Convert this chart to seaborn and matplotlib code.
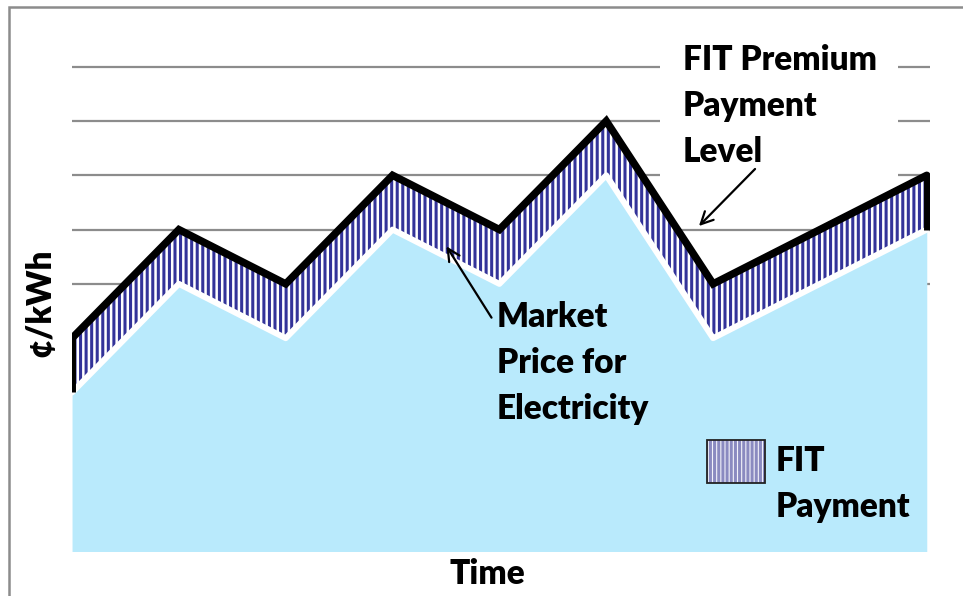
import numpy as np
import pandas as pd
import seaborn as sns
import matplotlib.pyplot as plt
from matplotlib.patches import Rectangle

# Chart data (arbitrary units)
periods = [0, 1, 2, 3, 4, 5, 6, 7, 8]
market_price = [3, 5, 4, 6, 5, 7, 4, 5, 6]
fit_payment = [1, 1, 1, 1, 1, 1, 1, 1, 1]
grid_values = [5, 6, 7, 8, 9]

df = pd.DataFrame({"Time": periods, "Market": market_price, "FIT": fit_payment})
df["Premium"] = df["Market"] + df["FIT"]

sns.set_style("white")
plt.rcParams["font.family"] = ["Lato", "DejaVu Sans"]
plt.rcParams["text.color"] = "black"
plt.rcParams["hatch.linewidth"] = 2.2

fig = plt.figure(figsize=(9.63, 5.96), dpi=100)
ax = fig.add_axes([0.0748, 0.0755, 0.8909, 0.849])

# gridlines
for g in grid_values:
    ax.axhline(g, color="#8c8c8c", lw=1.6, zorder=1)

# white box behind the top-right label (breaks the gridlines)
ax.add_patch(Rectangle((660 / 963, 1 - 200 / 596), 238 / 963, 165 / 596,
                       transform=fig.transFigure, facecolor="white",
                       edgecolor="none", zorder=1.5))

# market price area
ax.fill_between(df["Time"], 0, df["Market"], color="#B9EAFC", lw=0, zorder=2)
# FIT payment band (hatched)
ax.fill_between(df["Time"], df["Market"], df["Premium"], facecolor="white",
                edgecolor="#333399", hatch="|||", lw=0, zorder=2)

sns.lineplot(data=df, x="Time", y="Market", color="white", lw=4.3, ax=ax, zorder=3)
sns.lineplot(data=df, x="Time", y="Premium", color="black", lw=5.4, ax=ax, zorder=4)
ax.lines[-1].set_solid_joinstyle("miter")
ax.vlines([df["Time"].iloc[0], df["Time"].iloc[-1]],
          [df["Market"].iloc[0], df["Market"].iloc[-1]],
          [df["Premium"].iloc[0], df["Premium"].iloc[-1]],
          color="black", lw=5.0, zorder=4)

ax.set_xlim(0, 8.03)
ax.set_ylim(0.08, 9.4)
ax.set_xticks([])
ax.set_yticks([])
ax.set_xlabel("")
ax.set_ylabel("")
for s in ax.spines.values():
    s.set_visible(False)

fs = 24
wt = "heavy"
# annotations
fig.text(683 / 963, 1 - 106 / 596, "FIT Premium\nPayment\nLevel", fontsize=fs,
         fontweight=wt, ha="left", va="center", linespacing=1.55, color="black")
ax.annotate("", xy=(697 / 963, 1 - 228 / 596), xytext=(757 / 963, 1 - 167 / 596),
            xycoords="figure fraction", textcoords="figure fraction",
            arrowprops=dict(arrowstyle="->", color="black", lw=1.6,
                            mutation_scale=22), zorder=6)

fig.text(497 / 963, 1 - 363 / 596, "Market\nPrice for\nElectricity", fontsize=fs,
         fontweight=wt, ha="left", va="center", linespacing=1.55, color="black")
ax.annotate("", xy=(445 / 963, 1 - 244 / 596), xytext=(493 / 963, 1 - 320 / 596),
            xycoords="figure fraction", textcoords="figure fraction",
            arrowprops=dict(arrowstyle="->", color="black", lw=1.6,
                            mutation_scale=22), zorder=6)

# legend swatch
fig.patches.append(Rectangle((707 / 963, 1 - 483 / 596), 58 / 963, 43 / 596,
                             transform=fig.transFigure, facecolor="#F2F2FA",
                             edgecolor="#8a8ac0", hatch="||||", lw=0, zorder=5))
fig.patches.append(Rectangle((707 / 963, 1 - 483 / 596), 58 / 963, 43 / 596,
                             transform=fig.transFigure, facecolor="none",
                             edgecolor="#222222", lw=1.3, zorder=6))
fig.text(776 / 963, 1 - 484 / 596, "FIT\nPayment", fontsize=fs, fontweight=wt,
         ha="left", va="center", linespacing=1.55, color="black")

# axis titles
fig.text(487 / 963, 1 - 574 / 596, "Time", fontsize=fs, fontweight=wt,
         ha="center", va="center", color="black")
fig.text(40 / 963, 1 - 303 / 596, "¢/kWh", fontsize=fs, fontweight=wt,
         ha="center", va="center", rotation=90, color="black")

# outer frame
fig.patches.append(Rectangle((9 / 963, -0.1), 1.2, 1.1 - 7 / 596,
                             transform=fig.transFigure, facecolor="none",
                             edgecolor="#8c8c8c", lw=1.8, zorder=0))

fig.savefig("out.png", dpi=100)
